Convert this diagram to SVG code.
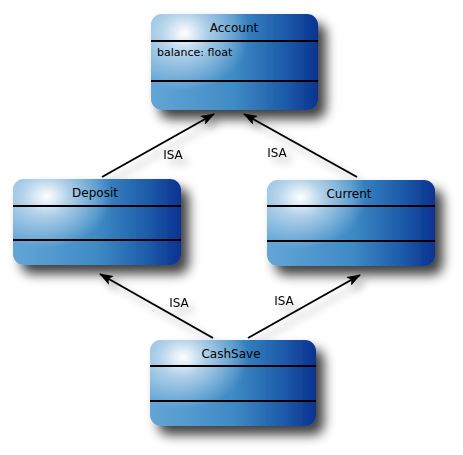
<svg xmlns="http://www.w3.org/2000/svg" width="463" height="455" viewBox="0 0 463 455">
<style>
.box{fill:url(#g);}
.hl{fill:url(#hl);}
.sep{stroke:#000;stroke-width:2;}
.t{font-family:"DejaVu Sans",Verdana,sans-serif;font-size:12px;fill:#000;}
.c{stroke:#000;stroke-width:2;fill:none;marker-end:url(#ah);}
</style>
<defs>
<linearGradient id="g" x1="0" y1="0" x2="1" y2="0">
<stop offset="0" stop-color="#64a5d6"/>
<stop offset="0.5" stop-color="#3f8bc5"/>
<stop offset="0.8" stop-color="#1d5caa"/>
<stop offset="1" stop-color="#0a3290"/>
</linearGradient>
<radialGradient id="hl" cx="0.2" cy="0.2" r="0.6" gradientTransform="translate(0.2 0.2) scale(0.65 1) translate(-0.2 -0.2)">
<stop offset="0" stop-color="#fff" stop-opacity="1"/>
<stop offset="0.35" stop-color="#fff" stop-opacity="0.55"/>
<stop offset="1" stop-color="#fff" stop-opacity="0"/>
</radialGradient>
<filter id="sh" x="-20%" y="-20%" width="150%" height="170%">
<feGaussianBlur in="SourceAlpha" stdDeviation="6"/>
<feOffset dx="8" dy="9"/>
<feComponentTransfer><feFuncA type="linear" slope="0.75"/></feComponentTransfer>
<feMerge><feMergeNode/><feMergeNode in="SourceGraphic"/></feMerge>
</filter>
<filter id="sh2" x="-20%" y="-20%" width="150%" height="160%">
<feGaussianBlur in="SourceAlpha" stdDeviation="4"/>
<feOffset dx="5" dy="6"/>
<feComponentTransfer><feFuncA type="linear" slope="0.35"/></feComponentTransfer>
<feMerge><feMergeNode/><feMergeNode in="SourceGraphic"/></feMerge>
</filter>
<marker id="ah" markerWidth="14" markerHeight="10" refX="13" refY="5" orient="auto" markerUnits="userSpaceOnUse">
<path d="M0,0 L14,5 L0,10 L3,5 Z" fill="#000"/>
</marker>
</defs>
<g id="connectors" filter="url(#sh2)">
<line class="c" x1="102" y1="177" x2="214" y2="114"/>
<line class="c" x1="357" y1="177" x2="244" y2="114"/>
<line class="c" x1="213" y1="338" x2="100" y2="274"/>
<line class="c" x1="248" y1="338" x2="360" y2="275"/>
<text class="t" x="173" y="159" text-anchor="middle">ISA</text>
<text class="t" x="277" y="157" text-anchor="middle">ISA</text>
<text class="t" x="179" y="307" text-anchor="middle">ISA</text>
<text class="t" x="284" y="305" text-anchor="middle">ISA</text>
</g>
<g id="account">
<rect class="box" x="151" y="14" width="167" height="96" rx="11" filter="url(#sh)"/>
<rect class="hl" x="151" y="14" width="167" height="96" rx="11"/>
<line class="sep" x1="151" y1="41" x2="318" y2="41"/>
<line class="sep" x1="151" y1="81" x2="318" y2="81"/>
<text class="t" x="234" y="32" text-anchor="middle">Account</text>
<text class="t" x="157" y="56" style="font-size:11px">balance: float</text>
</g>
<g id="deposit">
<rect class="box" x="13" y="179" width="168" height="86" rx="11" filter="url(#sh)"/>
<rect class="hl" x="13" y="179" width="168" height="86" rx="11"/>
<line class="sep" x1="13" y1="206" x2="181" y2="206"/>
<line class="sep" x1="13" y1="240" x2="181" y2="240"/>
<text class="t" x="95" y="197" text-anchor="middle">Deposit</text>
</g>
<g id="current">
<rect class="box" x="267" y="180" width="168" height="86" rx="11" filter="url(#sh)"/>
<rect class="hl" x="267" y="180" width="168" height="86" rx="11"/>
<line class="sep" x1="267" y1="206" x2="435" y2="206"/>
<line class="sep" x1="267" y1="241" x2="435" y2="241"/>
<text class="t" x="349" y="198" text-anchor="middle">Current</text>
</g>
<g id="cashsave">
<rect class="box" x="150" y="340" width="166" height="86" rx="11" filter="url(#sh)"/>
<rect class="hl" x="150" y="340" width="166" height="86" rx="11"/>
<line class="sep" x1="150" y1="366" x2="316" y2="366"/>
<line class="sep" x1="150" y1="401" x2="316" y2="401"/>
<text class="t" x="231" y="358" text-anchor="middle">CashSave</text>
</g>
</svg>
